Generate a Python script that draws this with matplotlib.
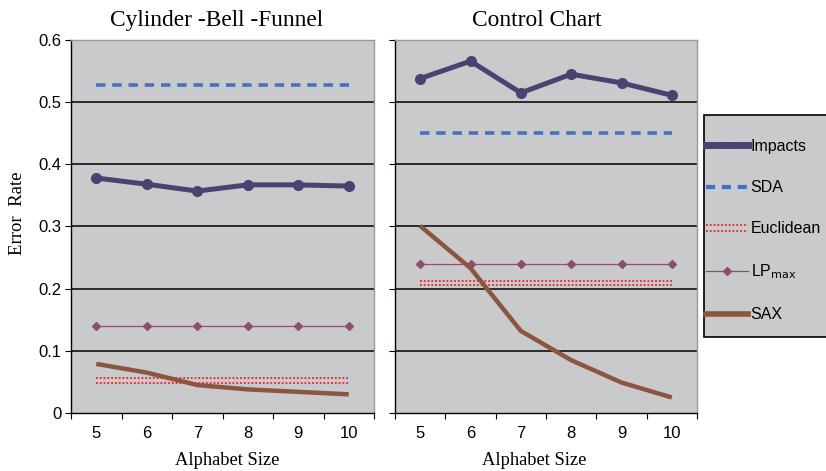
import matplotlib.pyplot as plt
from matplotlib.lines import Line2D
from matplotlib.patches import Rectangle
from matplotlib.legend_handler import HandlerBase
from matplotlib.transforms import offset_copy

alphabet = [5, 6, 7, 8, 9, 10]

# Cylinder-Bell-Funnel
cbf_impacts = [0.378, 0.368, 0.357, 0.367, 0.367, 0.365]
cbf_sda = [0.528] * 6
cbf_euclid = [0.052] * 6
cbf_lpmax = [0.14] * 6
cbf_sax = [0.079, 0.065, 0.045, 0.038, 0.034, 0.030]

# Control Chart
cc_impacts = [0.538, 0.566, 0.515, 0.545, 0.531, 0.511]
cc_sda = [0.45] * 6
cc_euclid = [0.209] * 6
cc_lpmax = [0.24] * 6
cc_sax = [0.301, 0.233, 0.132, 0.085, 0.049, 0.025]

titles = ["Cylinder -Bell -Funnel", "Control Chart"]
title_x = [0.482, 0.47]
xlabel_x = [0.515, 0.46]
series = [
    (cbf_impacts, cbf_sda, cbf_euclid, cbf_lpmax, cbf_sax),
    (cc_impacts, cc_sda, cc_euclid, cc_lpmax, cc_sax),
]

bg = "#c9cacc"
c_imp = "#4b4270"
c_sda = "#4a6fc0"
c_euc = "#ee2222"
c_lp = "#8a4f6e"
c_sax = "#8c5540"

serif = "Liberation Serif"
sans = "Liberation Sans"
dot_style = dict(color=c_euc, lw=1.3, ls=(0, (1, 1.1)))

fig = plt.figure(figsize=(8.26, 4.71), dpi=100)
W, H = 826, 471

def px_axes(x0, y0, x1, y1):
    return fig.add_axes([x0 / W, 1 - y1 / H, (x1 - x0) / W, (y1 - y0) / H])

axes = [px_axes(71, 40, 374, 413), px_axes(395, 40, 697, 413)]
pos = list(range(1, 7))

for i, (ax, title, data) in enumerate(zip(axes, titles, series)):
    imp, sda, euc, lp, sax = data
    ax.set_facecolor(bg)
    ax.set_xlim(0.5, 6.5)
    ax.set_ylim(0, 0.6)
    for y in [0.1, 0.2, 0.3, 0.4, 0.5]:
        ax.axhline(y, color="black", lw=1.1, zorder=1)

    ax.plot(pos, sda, color=c_sda, lw=2.6, ls=(0, (2.6, 1.9)), zorder=3)
    # euclidean drawn as a double dotted line
    for dy in (-2.2, 2.2):
        tr = offset_copy(ax.transData, fig=fig, y=dy, units="dots")
        ax.plot(pos, euc, transform=tr, zorder=3, **dot_style)
    ax.plot(pos, lp, color=c_lp, lw=0.9, marker="D", ms=4.5, zorder=4)
    ax.plot(pos, sax, color=c_sax, lw=3.2, zorder=4, solid_capstyle="butt")
    ax.plot(pos, imp, color=c_imp, lw=3.6, marker="o", ms=7, zorder=5)

    ax.set_xticks([p + 0.5 for p in range(0, 7)])
    ax.set_xticklabels([])
    ax.set_xticks(pos, minor=True)
    ax.set_xticklabels([str(a) for a in alphabet], minor=True,
                       fontfamily=sans, fontsize=12)
    ax.tick_params(axis="x", which="major", direction="out", length=4,
                   color="black")
    ax.tick_params(axis="x", which="minor", length=0, pad=9)
    ax.set_yticks([0, 0.1, 0.2, 0.3, 0.4, 0.5, 0.6])
    if i == 0:
        ax.set_yticklabels(["0", "0.1", "0.2", "0.3", "0.4", "0.5", "0.6"],
                           fontfamily=sans, fontsize=12)
    else:
        ax.set_yticklabels([])
    ax.tick_params(axis="y", direction="out", length=4, pad=3)

    for s in ["left", "bottom"]:
        ax.spines[s].set_color("black")
        ax.spines[s].set_linewidth(1.0)
    for s in ["top", "right"]:
        ax.spines[s].set_color("#9a9a9a")
        ax.spines[s].set_linewidth(1.0)

    ax.set_title(title, fontfamily=serif, fontsize=16.8, pad=10, x=title_x[i])
    ax.set_xlabel("Alphabet Size", fontfamily=serif, fontsize=13.3,
                  labelpad=8, x=xlabel_x[i])

axes[0].set_ylabel("Error  Rate", fontfamily=serif, fontsize=13.5,
                   labelpad=9, y=0.536)


class DoubleDotHandler(HandlerBase):
    def create_artists(self, legend, orig_handle, xdescent, ydescent,
                       width, height, fontsize, trans):
        arts = []
        yc = height / 2 - ydescent
        for dy in (-2.2, 2.2):
            ln = Line2D([-xdescent, -xdescent + width], [yc + dy, yc + dy],
                        **dot_style)
            ln.set_transform(trans)
            arts.append(ln)
        return arts


# legend box
fig.patches.append(Rectangle((704 / W, 1 - 337 / H), 130 / W, 222 / H,
                             transform=fig.transFigure, facecolor=bg,
                             edgecolor="black", lw=1.2, zorder=0))

h_imp = Line2D([], [], color=c_imp, lw=5, marker="o", ms=4)
h_sda = Line2D([], [], color=c_sda, lw=3, ls=(0, (2.2, 1.6)))
h_euc = Rectangle((0, 0), 1, 1)
h_lp = Line2D([], [], color=c_lp, lw=0.9, marker="D", ms=4.5)
h_sax = Line2D([], [], color=c_sax, lw=4)

leg = fig.legend([h_imp, h_sda, h_euc, h_lp, h_sax],
                 ["Impacts", "SDA", "Euclidean", r"LP$_{\mathrm{max}}$", "SAX"],
                 handler_map={h_euc: DoubleDotHandler()},
                 loc="upper left", bbox_to_anchor=(706 / W, 1 - 139 / H),
                 frameon=False, prop={"family": sans, "size": 11.5},
                 handlelength=2.6, handletextpad=0.2, labelspacing=1.64,
                 borderpad=0, borderaxespad=0)

fig.savefig("out.png", dpi=100)
